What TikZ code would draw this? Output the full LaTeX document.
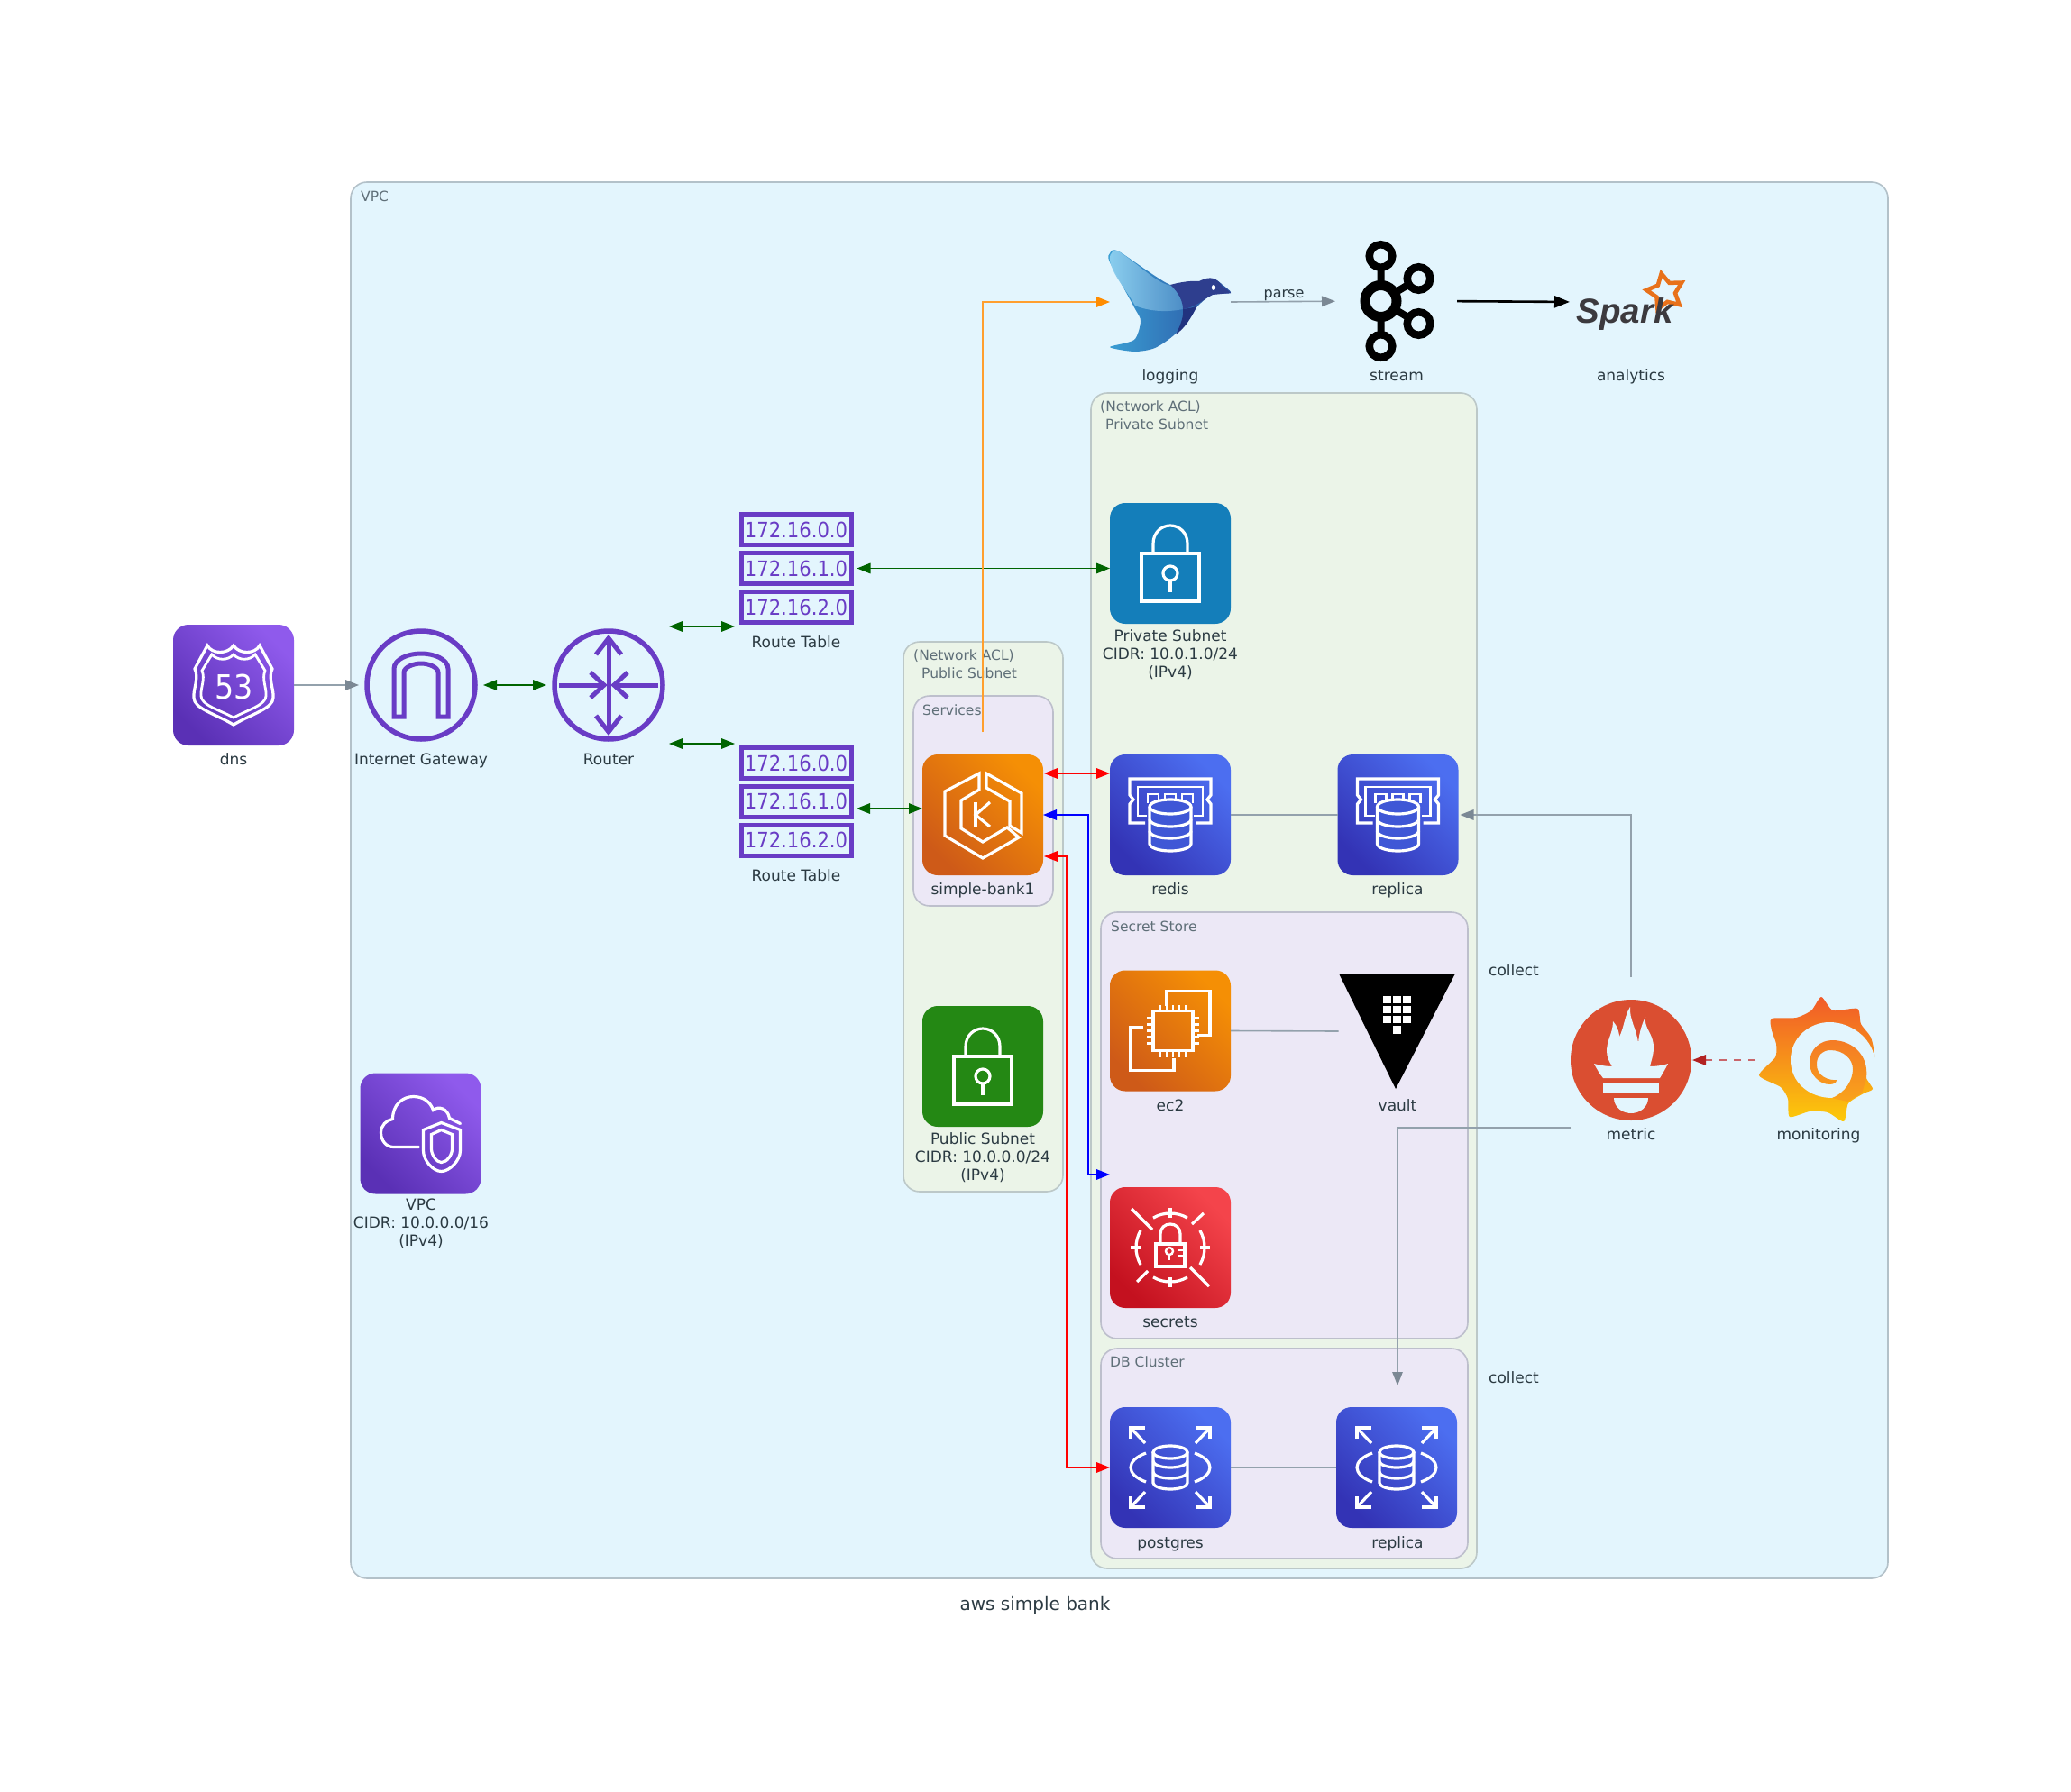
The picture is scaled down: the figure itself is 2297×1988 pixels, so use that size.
\documentclass[tikz,border=0pt]{standalone}
\usepackage{fontspec}
\setmainfont{DejaVu Sans}
\newfontfamily\condf{DejaVu Sans Condensed}
\newfontfamily\sparkf{Liberation Sans}
\usetikzlibrary{arrows.meta,shapes.geometric,calc}
\definecolor{bgvpc}{HTML}{E3F5FD}
\definecolor{bdvpc}{HTML}{B3C1C9}
\definecolor{bgnet}{HTML}{EBF4E8}
\definecolor{bdnet}{HTML}{BCC8C8}
\definecolor{bggrp}{HTML}{ECE8F6}
\definecolor{bdgrp}{HTML}{BDBFCC}
\definecolor{txt}{HTML}{2B3A42}
\definecolor{txtc}{HTML}{5F6F78}
\definecolor{purp}{HTML}{693CC5}
\definecolor{grayhead}{HTML}{7B8894}
\definecolor{grayline}{HTML}{93A1AC}
\definecolor{dkgreen}{HTML}{006400}
\definecolor{orgline}{HTML}{FF9F2E}
\definecolor{orghead}{HTML}{FF8C00}
\definecolor{fbrick}{HTML}{B22222}
\definecolor{fbline}{HTML}{C9656A}
\definecolor{promc}{HTML}{DA4E31}
\definecolor{sparkstar}{HTML}{E8711A}
\definecolor{sparkt}{HTML}{3C3A3E}
\definecolor{rdfill}{HTML}{3F57D6}
\definecolor{pdk}{HTML}{5A30B5}
\definecolor{plt}{HTML}{8F5AEC}
\definecolor{odk}{HTML}{CE5A18}
\definecolor{olt}{HTML}{F58F05}
\definecolor{bdk}{HTML}{3333B5}
\definecolor{blt}{HTML}{4C6EF0}
\definecolor{rdk}{HTML}{C4111F}
\definecolor{rlt}{HTML}{F4444B}
\definecolor{pubgreen}{HTML}{248814}
\definecolor{privblue}{HTML}{147EBA}
\definecolor{birdA}{HTML}{3A9FD4}
\definecolor{birdB}{HTML}{2A4F9F}
\definecolor{birdC}{HTML}{8FD1F0}
\definecolor{birdD}{HTML}{4E8FC8}
\definecolor{birdE}{HTML}{2E3E8E}
\definecolor{birdF}{HTML}{21327F}
\definecolor{grafA}{HTML}{F15A29}
\definecolor{grafB}{HTML}{FCCB0A}
\definecolor{grafC}{HTML}{F47B25}
\definecolor{grafD}{HTML}{F9A31B}
\tikzset{
  mlbl/.style={font=\fontsize{17}{20}\selectfont,text=txt,align=center,inner sep=0pt},
  lbl/.style={font=\fontsize{17}{20}\selectfont,text=txt,inner sep=0pt,text height=16pt,text depth=3.5pt},
  clbl/.style={font=\fontsize{15.5}{20}\selectfont,text=txtc,align=left,inner sep=0pt,anchor=west},
  cluster/.style={rounded corners=18pt,line width=1.6pt},
  iconbox/.style={rectangle,rounded corners=17pt,minimum size=134pt,inner sep=0pt,outer sep=0pt},
  grad/.style 2 args={iconbox,shade,bottom color=#1,top color=#2,shading angle=-45},
  plainbox/.style={rectangle,minimum width=#1,inner sep=0pt,outer sep=0pt},
  glyph/.style={draw=white,line width=3.2pt,line join=miter,fill=none},
  ringp/.style={circle,draw=purp,line width=5.5pt,minimum size=120pt,inner sep=0pt,outer sep=3pt},
  rtrow/.style={rectangle,draw=purp,line width=5pt,minimum width=122pt,minimum height=34pt,inner sep=0pt,text=purp,font=\condf\fontsize{23.5}{23.5}\selectfont},
  arr/.style={-{Triangle[length=15pt,width=11.5pt,color=#1]}},
  darr/.style={{Triangle[length=15pt,width=11.5pt,color=#1]}-{Triangle[length=15pt,width=11.5pt,color=#1]}},
  bigarr/.style={-{Triangle[length=17pt,width=13pt,color=#1]}},
  ln/.style={line width=1.6pt},
}
\newcommand{\lockglyph}[1]{\begin{scope}[shift={(#1)}]
  \draw[glyph] (-32,-11) rectangle (32,42);
  \draw[glyph] (-19,-11) -- (-19,-22) .. controls (-19,-34) and (-10,-42) .. (0,-42) .. controls (10,-42) and (19,-34) .. (19,-22) -- (19,-11);
  \draw[glyph] (0,11) ellipse[x radius=8,y radius=8];
  \draw[glyph] (0,19) -- (0,32);
\end{scope}}
\newcommand{\cyl}[6]{% w top bottom ry fill extra
  \draw[glyph,fill=#5] (-#1,#2) -- (-#1,#3) arc[start angle=180,end angle=0,x radius=#1,y radius=#4] -- (#1,#2);
  \draw[glyph,fill=#5] (0,#2) ellipse[x radius=#1,y radius=#4];
  \foreach \yy in {#6} {\draw[glyph] (-#1,\yy) arc[start angle=180,end angle=0,x radius=#1,y radius=#4];}
}
\newcommand{\redisglyph}[1]{\begin{scope}[shift={(#1)}]
  \draw[glyph] (-28,9)--(-45,9)--(-45,-12)--(-41,-17)--(-45,-22)--(-45,-40)--(45,-40)--(45,-22)--(41,-17)--(45,-12)--(45,9)--(28,9);
  \draw[glyph,line width=2.8pt] (-26,1)--(-36,1)--(-36,-31)--(36,-31)--(36,1)--(26,1);
  \foreach \xx in {-25,-6,13} {\draw[glyph,line width=2.8pt] (\xx,-13)--(\xx,-23)--(\xx+12,-23)--(\xx+12,-13);}
  \cyl{23}{-9}{32}{8}{rdfill}{5,18}
\end{scope}}
\newcommand{\rdsglyph}[1]{\begin{scope}[shift={(#1)}]
  \cyl{19}{-17}{17}{7}{none}{-7,5}
  \foreach \sx/\sy in {1/1,-1/1,1/-1,-1/-1} {
    \begin{scope}[xscale=\sx,yscale=\sy]
    \draw[glyph] (-44,-32)--(-44,-44)--(-28,-44);
    \draw[glyph] (-44,-44)--(-28,-27);
    \end{scope}}
  \draw[glyph] (-27,-16) .. controls (-38,-12) and (-44,-6) .. (-44,0) .. controls (-44,6) and (-38,12) .. (-27,16);
  \draw[glyph] (27,-16) .. controls (38,-12) and (44,-6) .. (44,0) .. controls (44,6) and (38,12) .. (27,16);
\end{scope}}
\begin{document}
\begin{tikzpicture}[x=1pt,y=-1pt]
\useasboundingbox (0,0) rectangle (2297,1988);
\fill[white] (0,0) rectangle (2297,1988);
% clusters
\draw[cluster,fill=bgvpc,draw=bdvpc] (389,202) rectangle (2094,1751);
\draw[cluster,fill=bgnet,draw=bdnet] (1210,436) rectangle (1638,1740);
\draw[cluster,fill=bgnet,draw=bdnet] (1002,712) rectangle (1179,1322);
\draw[cluster,fill=bggrp,draw=bdgrp] (1013,772) rectangle (1168,1005);
\draw[cluster,fill=bggrp,draw=bdgrp] (1221,1012) rectangle (1628,1485);
\draw[cluster,fill=bggrp,draw=bdgrp] (1221,1496) rectangle (1628,1729);
\node[clbl] (lvpc) at (400,218) {VPC};
\node[clbl] (lpriv) at (1220,461) {(Network ACL)\\\hspace*{6pt}Private Subnet};
\node[clbl] (lpub) at (1013,736.5) {(Network ACL)\\\hspace*{9pt}Public Subnet};
\node[clbl] (lsvc) at (1023,788) {Services};
\node[clbl] (lsec) at (1232,1028) {Secret Store};
\node[clbl] (ldb) at (1231,1511) {DB Cluster};
\node[font=\fontsize{20}{24}\selectfont,text=txt,inner sep=0pt] (title) at (1148,1780.5) {aws simple bank};
% nodes
\node[grad={pdk}{plt}] (dns) at (259,760) {};
\node[ringp] (ig) at (467,760) {};
\node[ringp] (router) at (675,760) {};
\node[plainbox=127pt,minimum height=125pt] (rt1) at (883,630.5) {};
\node[plainbox=127pt,minimum height=124pt] (rt2) at (883,889) {};
\node[grad={pdk}{plt}] (vpc) at (466.5,1257.5) {};
\node[grad={odk}{olt}] (sb) at (1090,904) {};
\node[iconbox,fill=pubgreen] (pub) at (1090,1183) {};
\node[iconbox,fill=privblue] (priv) at (1298,625) {};
\node[grad={bdk}{blt}] (redis) at (1298,904) {};
\node[grad={bdk}{blt}] (rep) at (1550.5,904) {};
\node[grad={odk}{olt}] (ec2) at (1298,1143.5) {};
\node[plainbox=129pt,minimum height=128pt] (vault) at (1549,1144) {};
\node[grad={rdk}{rlt}] (secrets) at (1298,1384) {};
\node[grad={bdk}{blt}] (pg) at (1298,1628) {};
\node[grad={bdk}{blt}] (rep2) at (1549,1628) {};
\node[plainbox=134pt,minimum height=111pt] (bird) at (1298,335) {};
\node[plainbox=83pt,minimum height=134pt] (kafka) at (1549.5,334) {};
\node[plainbox=122pt,minimum height=64pt] (spark) at (1809,335) {};
\node[circle,fill=promc,minimum size=134pt,inner sep=0pt,outer sep=0pt] (metric) at (1809,1176) {};
\node[plainbox=127pt,minimum height=138pt] (graf) at (2017,1176) {};
% labels
\node[lbl] (l1) at (259,842) {dns};
\node[lbl] (l2) at (467,842) {Internet Gateway};
\node[lbl] (l3) at (675,842) {Router};
\node[lbl] (l4) at (883,712) {Route Table};
\node[lbl] (l5) at (883,971) {Route Table};
\node[mlbl] (l6) at (467,1357) {VPC\\CIDR: 10.0.0.0/16\\(IPv4)};
\node[lbl] (l7) at (1090,986) {simple-bank1};
\node[mlbl] (l8) at (1090,1284) {Public Subnet\\CIDR: 10.0.0.0/24\\(IPv4)};
\node[mlbl] (l9) at (1298,726) {Private Subnet\\CIDR: 10.0.1.0/24\\(IPv4)};
\node[lbl] (l10) at (1298,986) {redis};
\node[lbl] (l11) at (1550,986) {replica};
\node[lbl] (l12) at (1298,1226) {ec2};
\node[lbl] (l13) at (1550,1226) {vault};
\node[lbl] (l14) at (1298,1466) {secrets};
\node[lbl] (l15) at (1298,1711) {postgres};
\node[lbl] (l16) at (1550,1711) {replica};
\node[lbl] (l17) at (1298,416) {logging};
\node[lbl] (l18) at (1549,416) {stream};
\node[lbl] (l19) at (1809,416) {analytics};
\node[lbl] (l20) at (1809,1258) {metric};
\node[lbl] (l21) at (2017,1258) {monitoring};
\node[lbl] (l22) at (1679,1076) {collect};
\node[lbl] (l23) at (1679,1528) {collect};
\node[lbl,font=\fontsize{16}{20}\selectfont] (l24) at (1424,324) {parse};
% route table rows
\foreach \nm/\ctr/\tx in {a/587.5/172.16.0.0,b/630.5/172.16.1.0,c/673.5/172.16.2.0,d/846.5/172.16.0.0,e/889/172.16.1.0,f/932/172.16.2.0}{
  \node[rtrow] (row\nm) at (883,\ctr) {\tx};
}
% route 53
\begin{scope}[shift={(dns)}]
  \draw[glyph] (-29,-44) .. controls (-24,-34) and (-6,-34) .. (0,-44) .. controls (6,-34) and (24,-34) .. (29,-44) -- (43,-18) .. controls (38,-8) and (45,5) .. (44,14) .. controls (44,26) and (20,32) .. (0,44) .. controls (-20,32) and (-44,26) .. (-44,14) .. controls (-45,5) and (-38,-8) .. (-43,-18) -- cycle;
  \draw[glyph,line width=2.8pt] (-24,-34) .. controls (-18,-27) and (-6,-27) .. (0,-34) .. controls (6,-27) and (18,-27) .. (24,-34) -- (35,-16) .. controls (31,-7) and (37,4) .. (36,12) .. controls (36,22) and (17,27) .. (0,36) .. controls (-17,27) and (-36,22) .. (-36,12) .. controls (-37,4) and (-31,-7) .. (-35,-16) -- cycle;
  \node[text=white,font=\condf\fontsize{37}{37}\selectfont,inner sep=0pt] (d53) at (1,2) {53};
\end{scope}
% internet gateway
\begin{scope}[shift={(ig)}]
  \draw[draw=purp,line width=5pt,line join=miter] (-30,35) -- (-30,-18) .. controls (-30,-29) and (-14,-35) .. (0,-35) .. controls (14,-35) and (30,-29) .. (30,-18) -- (30,35) -- (19,35) -- (19,-14) .. controls (19,-20) and (8,-24) .. (0,-24) .. controls (-8,-24) and (-19,-20) .. (-19,-14) -- (-19,35) -- cycle;
\end{scope}
% router
\begin{scope}[shift={(router)},draw=purp,line width=5pt]
  \draw (0,-50) -- (0,50);
  \draw (-14,-34) -- (0,-52) -- (14,-34);
  \draw (-14,34) -- (0,52) -- (14,34);
  \draw (-55,0) -- (-5,0);
  \draw (-20,-14) -- (-5,0) -- (-20,14);
  \draw (55,0) -- (6,0);
  \draw (21,-14) -- (6,0) -- (21,14);
\end{scope}
% vpc icon
\begin{scope}[shift={(vpc)}]
  \draw[glyph,line cap=round] (-2,15) -- (-30,15) .. controls (-38,15) and (-44,8) .. (-44,-1) .. controls (-44,-9) and (-38,-15) .. (-31,-16) .. controls (-31,-32) and (-20,-41) .. (-8,-41) .. controls (3,-41) and (11,-35) .. (14,-26) .. controls (20,-31) and (30,-28) .. (32,-17) -- (44,-11);
  \draw[glyph] (23,-12) -- (3,-4) -- (3,19) .. controls (3,30) and (14,42) .. (23,42) .. controls (32,42) and (44,30) .. (44,19) -- (44,-4) -- cycle;
  \draw[glyph] (23,-4) -- (12,1) -- (12,17) .. controls (12,24) and (18,32) .. (23,32) .. controls (29,32) and (35,24) .. (35,17) -- (35,1) -- cycle;
\end{scope}
% eks
\begin{scope}[shift={(sb)}]
  \draw[glyph] (-4,-46) -- (-42,-26) -- (-42,23) -- (0,48) -- (40,25) -- (27,14) -- (0,30) -- (-24,15) -- (-24,-16) -- (-4,-28) -- cycle;
  \draw[glyph] (4,-46) -- (43,-24) -- (43,20) -- (30,12) -- (30,-15) -- (4,-30) -- cycle;
  \draw[glyph] (-8,-14) -- (-8,13);
  \draw[glyph] (8,-14) -- (-8,0) -- (8,13);
\end{scope}
\lockglyph{pub}
\lockglyph{priv}
\redisglyph{redis}
\redisglyph{rep}
\rdsglyph{pg}
\rdsglyph{rep2}
% ec2
\begin{scope}[shift={(ec2)}]
  \draw[glyph] (-4,-28)--(-4,-44)--(44,-44)--(44,5)--(30,5);
  \draw[glyph] (-30,-4)--(-44,-4)--(-44,44)--(4,44)--(4,30);
  \draw[glyph] (-19,-22) rectangle (25,22);
  \foreach \oo in {-14,-7,0,7,14} {
    \draw[glyph,line width=2.4pt] (3+\oo,-22)--(3+\oo,-29);
    \draw[glyph,line width=2.4pt] (3+\oo,22)--(3+\oo,29);
    \draw[glyph,line width=2.4pt] (-19,\oo)--(-26,\oo);
    \draw[glyph,line width=2.4pt] (25,\oo)--(32,\oo);
  }
\end{scope}
% vault
\begin{scope}[shift={(vault)}]
  \fill[black] (-64,-64) -- (65,-64) -- (-1,64) -- cycle;
  \foreach \ry in {-35,-24,-13} \foreach \rx in {-11,0,11} {\fill[white] (\rx-4.5,\ry-4) rectangle (\rx+4.5,\ry+4);}
  \fill[white] (-4.5,-6) rectangle (4.5,3);
\end{scope}
% secrets
\begin{scope}[shift={(secrets)}]
  \draw[glyph] (-43,-43) -- (-20,-20);
  \draw[glyph] (22,22) -- (43,43);
  \draw[glyph] (24,-26) -- (37,-38);
  \draw[glyph] (-37,38) -- (-25,26);
  \foreach \aa in {0,90,180,270} {
    \draw[glyph] (\aa-30:38) arc[start angle=\aa-30,end angle=\aa+30,radius=38];
    \draw[glyph] (\aa:33) -- (\aa:44);
  }
  \draw[glyph] (-16,-4) rectangle (16,21);
  \draw[glyph] (-11,-4) -- (-11,-15) .. controls (-11,-22) and (-6,-26) .. (0,-26) .. controls (6,-26) and (11,-22) .. (11,-15) -- (11,-4);
  \draw[glyph,line width=2.4pt] (-1,4) circle[radius=4];
  \draw[glyph,line width=2.4pt] (-1,8) -- (-1,14);
  \draw[glyph,line width=2.4pt] (9,3)--(16,3) (9,9)--(16,9);
\end{scope}
% fluentd bird
\begin{scope}[shift={(bird)}]
  \shade[left color=birdA,right color=birdB] plot[smooth cycle,tension=0.45] coordinates {(-67,-54) (-57,-56) (0,-19) (32,-23) (49,-25) (58,-19) (67,-10) (46,-8) (29,6) (6,35) (-17,51) (-40,55) (-67,50) (-40,42) (-33,21) (-40,6) (-67,-44)};
  \shade[left color=birdC,right color=birdD,fill opacity=0.95] (-67,-46) .. controls (-68,-56) and (-62,-58) .. (-57,-56) .. controls (-30,-38) and (-15,-20) .. (2,-18) .. controls (14,-3) and (15,5) .. (14,8) .. controls (-5,12) and (-25,10) .. (-39,4) .. controls (-50,-15) and (-64,-30) .. (-67,-46) -- cycle;
  \fill[birdE] (0,-19) .. controls (10,-22) and (25,-24) .. (32,-23) .. controls (45,-30) and (52,-26) .. (57,-18) -- (67,-10) -- (47,-8) .. controls (35,-2) and (28,6) .. (14,8) .. controls (14,0) and (10,-10) .. (0,-19) -- cycle;
  \fill[birdF] (14,8) .. controls (22,7) and (27,6) .. (30,4) .. controls (22,20) and (15,30) .. (6,36) .. controls (12,25) and (15,15) .. (14,8) -- cycle;
  \fill[white] (48,-16) ellipse[x radius=2.2,y radius=3];
\end{scope}
% kafka
\begin{scope}[shift={(kafka)},draw=black]
  \draw[line width=8pt] (-18,0) -- (-18,-50) (-18,0) -- (-18,50) (-18,0) -- (24,-25) (-18,0) -- (24,25);
  \draw[line width=11pt,fill=bgvpc] (-18,0) circle[radius=17.5];
  \draw[line width=8.5pt,fill=bgvpc] (-18,-50) circle[radius=12.75];
  \draw[line width=8.5pt,fill=bgvpc] (-18,50) circle[radius=12.75];
  \draw[line width=8.5pt,fill=bgvpc] (24,-25) circle[radius=12.75];
  \draw[line width=8.5pt,fill=bgvpc] (24,25) circle[radius=12.75];
\end{scope}
% spark
\node[star,star points=5,star point ratio=1.9,draw=sparkstar,line width=4.5pt,minimum size=42pt,inner sep=0pt,rotate=12] (sstar) at (1847,324) {};
\node[text=sparkt,font=\sparkf\bfseries\itshape\fontsize{38.5}{39}\selectfont,inner sep=0pt] (stxt) at (1802,349) {Spark};
% prometheus
\begin{scope}[shift={(metric)}]
  \fill[bgvpc] (-20,-43) .. controls (-15,-38) and (-13,-30) .. (-13,-26) .. controls (-8,-35) and (-7,-50) .. (-1,-59) .. controls (-2,-45) and (6,-35) .. (8,-19) .. controls (9,-30) and (12,-40) .. (16,-48) .. controls (14,-35) and (25,-30) .. (25,-14) .. controls (25,-5) and (22,2) .. (21,7) .. controls (28,7) and (35,6) .. (41,4) .. controls (38,10) and (35,15) .. (32,20) -- (-31,20) .. controls (-35,15) and (-38,10) .. (-41,4) .. controls (-34,6) and (-27,7) .. (-21,7) .. controls (-24,2) and (-27,-3) .. (-27,-10) .. controls (-27,-22) and (-20,-30) .. (-20,-43) -- cycle;
  \fill[bgvpc] (-31,26) rectangle (31,37);
  \fill[bgvpc] (-19,42) -- (19,42) .. controls (19,52) and (10,59) .. (0,59) .. controls (-10,59) and (-19,52) .. (-19,42) -- cycle;
\end{scope}
% grafana
\begin{scope}[shift={(graf)}]
  \shade[top color=grafA,bottom color=grafB] plot[smooth cycle,tension=0.4] coordinates {(3,-70) (16,-55) (43,-57) (47,-40) (58,-25) (62,-3) (52,17) (60,32) (50,37) (33,48) (28,68) (10,58) (-10,57) (-32,63) (-34,43) (-42,30) (-66,17) (-48,-3) (-47,-18) (-52,-33) (-52,-46) (-25,-47) (-8,-55)};
  \fill[bgvpc] (-31,0) .. controls (-31,-25) and (-10,-42) .. (12,-42) .. controls (36,-42) and (58,-25) .. (62,-3) -- (66,8) -- (53,16) .. controls (50,32) and (35,42) .. (15,42) .. controls (-10,42) and (-31,25) .. (-31,0) -- cycle;
  \shade[top color=grafC,bottom color=grafD] (53,20) .. controls (56,-5) and (38,-22) .. (15,-22) .. controls (2,-22) and (-10,-12) .. (-10,3) .. controls (-10,17) and (2,27) .. (12,27) .. controls (17,27) and (20,25) .. (20,22) .. controls (12,23) and (-3,18) .. (-2,4) .. controls (-2,-5) and (5,-11) .. (13,-11) .. controls (28,-11) and (38,-1) .. (38,10) .. controls (38,22) and (30,36) .. (15,42) -- (32,46) -- (48,37) -- cycle;
\end{scope}
% connectors
\coordinate (r1a) at (742,695); \coordinate (r1b) at (815,695);
\coordinate (r2a) at (742,825); \coordinate (r2b) at (815,825);
\coordinate (rt2p) at (946,897);
\coordinate (sbtop) at (1090,812);
\coordinate (sbr1) at (1158,858); \coordinate (rdr1) at (1231,858);
\coordinate (blueA) at (1207,904); \coordinate (blueB) at (1207,1303); \coordinate (blueC) at (1231,1303);
\coordinate (redS) at (1158,950); \coordinate (redA) at (1183,950); \coordinate (redB) at (1183,1628);
\coordinate (metT) at (1809,1084);
\coordinate (metB) at (1742,1251); \coordinate (repT) at (1550,1537);
\coordinate (grafL) at (1947,1176);
\draw[ln,draw=grayline,arr=grayhead,shorten >=6pt] (dns.east) -- (ig.west);
\draw[ln,draw=dkgreen,darr=dkgreen,shorten <=6pt,shorten >=6pt] (ig.east) -- (router.west);
\draw[ln,draw=dkgreen,darr=dkgreen] (r1a) -- (r1b);
\draw[ln,draw=dkgreen,darr=dkgreen] (r2a) -- (r2b);
\draw[ln,draw=dkgreen,darr=dkgreen,shorten <=4pt] (rt1.east) -- (rt1.east -| priv.west);
\draw[ln,draw=orgline,arr=orghead] (sbtop) |- (bird.west);
\draw[ln,draw=dkgreen,darr=dkgreen,shorten <=4pt] (rt2p) -- (rt2p -| sb.west);
\draw[ln,draw=red,darr=red] (sbr1) -- (rdr1);
\draw[ln,draw=blue,darr=blue] (sb.east) -- (blueA) -- (blueB) -- (blueC);
\draw[ln,draw=red,darr=red] (redS) -- (redA) -- (redB) -- (pg.west);
\draw[ln,draw=grayline] (redis.east) -- (rep.west);
\draw[ln,draw=grayline] (ec2.east) -- (vault.west);
\draw[ln,draw=grayline] (pg.east) -- (rep2.west);
\draw[ln,draw=grayline,arr=grayhead,shorten >=2pt] (metT) |- (rep.east);
\draw[line width=1.2pt,draw=grayline,arr=grayhead] (metB) -| (repT);
\draw[ln,draw=grayline,arr=grayhead,shorten >=27pt] (bird.east) -- (kafka.west);
\draw[line width=2.6pt,draw=black,bigarr=black,shorten <=25pt,shorten >=7pt] (kafka.east) -- (spark.west);
\draw[ln,draw=fbline,dash pattern=on 8pt off 8pt,arr=fbrick,shorten >=1pt] (grafL) -- (metric.east);
\end{tikzpicture}
\end{document}
